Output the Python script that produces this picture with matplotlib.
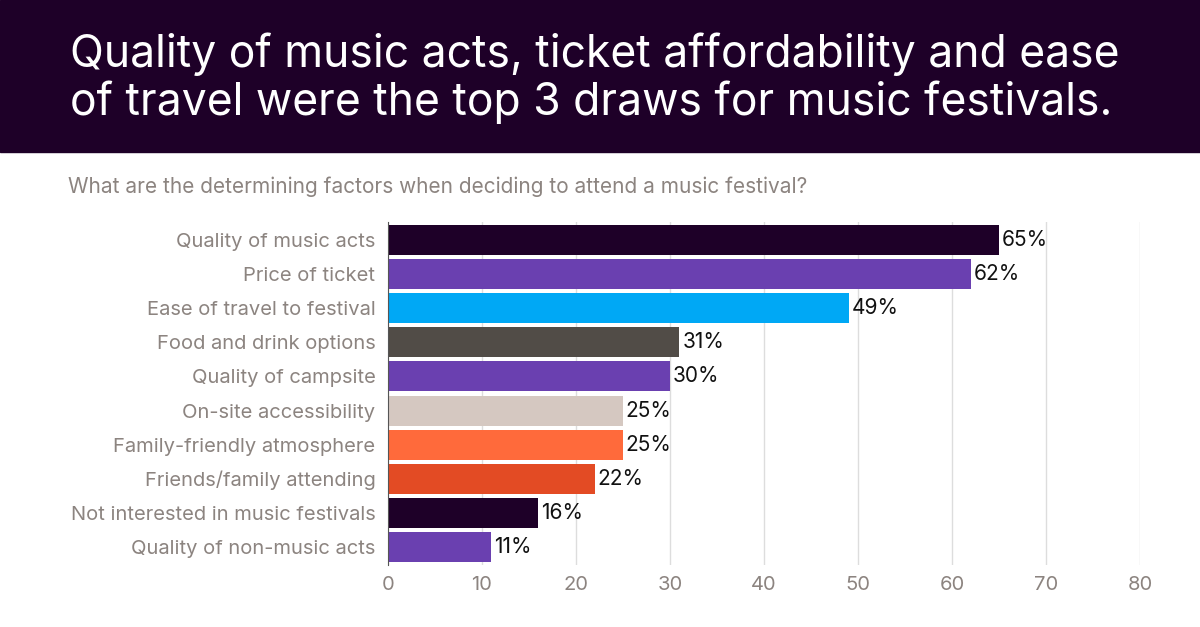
import matplotlib
matplotlib.use("Agg")
from matplotlib import pyplot as plt
import numpy as np

factors = ['Quality of music acts', 'Price of ticket', 'Ease of travel to festival',
           'Food and drink options', 'Quality of campsite', 'On-site accessibility',
           'Family-friendly atmosphere', 'Friends/family attending',
           'Not interested in music festivals', 'Quality of non-music acts']
shares = [65, 62, 49, 31, 30, 25, 25, 22, 16, 11]
colors = ['#1e0028', '#6a40b0', '#00a8f5', '#514c47', '#6a40b0', '#d5c8c1',
          '#ff6a3b', '#e34b24', '#1e0028', '#6a40b0']
xticks = [0, 10, 20, 30, 40, 50, 60, 70, 80]

plt.rcParams['font.family'] = 'Inter'
fig = plt.figure(figsize=(12, 6.27), dpi=100)

# header band
fig.patches.append(plt.Rectangle((0, 1 - 152 / 627), 1, 152 / 627, transform=fig.transFigure,
                                 color='#1e0028', zorder=0))
fig.text(70 / 1200, 1 - 78 / 627, 'Quality of music acts, ticket affordability and ease\n'
         'of travel were the top 3 draws for music festivals.',
         color='white', fontsize=32, va='center', ha='left', linespacing=1.12)
fig.text(68 / 1200, 1 - 187 / 627,
         'What are the determining factors when deciding to attend a music festival?',
         color='#8c8480', fontsize=15, va='center', ha='left')

ax = fig.add_axes([388 / 1200, 1 - 565 / 627, 752 / 1200, 343 / 627])
y = np.arange(len(factors))
ax.barh(y, shares, height=0.88, color=colors, zorder=3)
for yi, v in zip(y, shares):
    ax.text(v + 0.3, yi, f'{v}%', va='center', ha='left', fontsize=15, color='#111111', zorder=4)

ax.set_xlim(0, 80)
ax.set_ylim(9.53, -0.53)
ax.set_yticks(y)
ax.set_yticklabels(factors, fontsize=14.5, color='#8c8480')
ax.set_xticks(xticks)
ax.set_xticklabels([str(t) for t in xticks], fontsize=14.5, color='#8c8480')
ax.tick_params(length=0, pad=8)
ax.tick_params(axis='y', pad=9)
ax.grid(axis='x', color='#dddddd', lw=1, zorder=0)
for s in ['top', 'right', 'bottom']:
    ax.spines[s].set_visible(False)
ax.spines['left'].set_color('#555555')
ax.spines['left'].set_zorder(5)

plt.savefig('out.png', dpi=100)
